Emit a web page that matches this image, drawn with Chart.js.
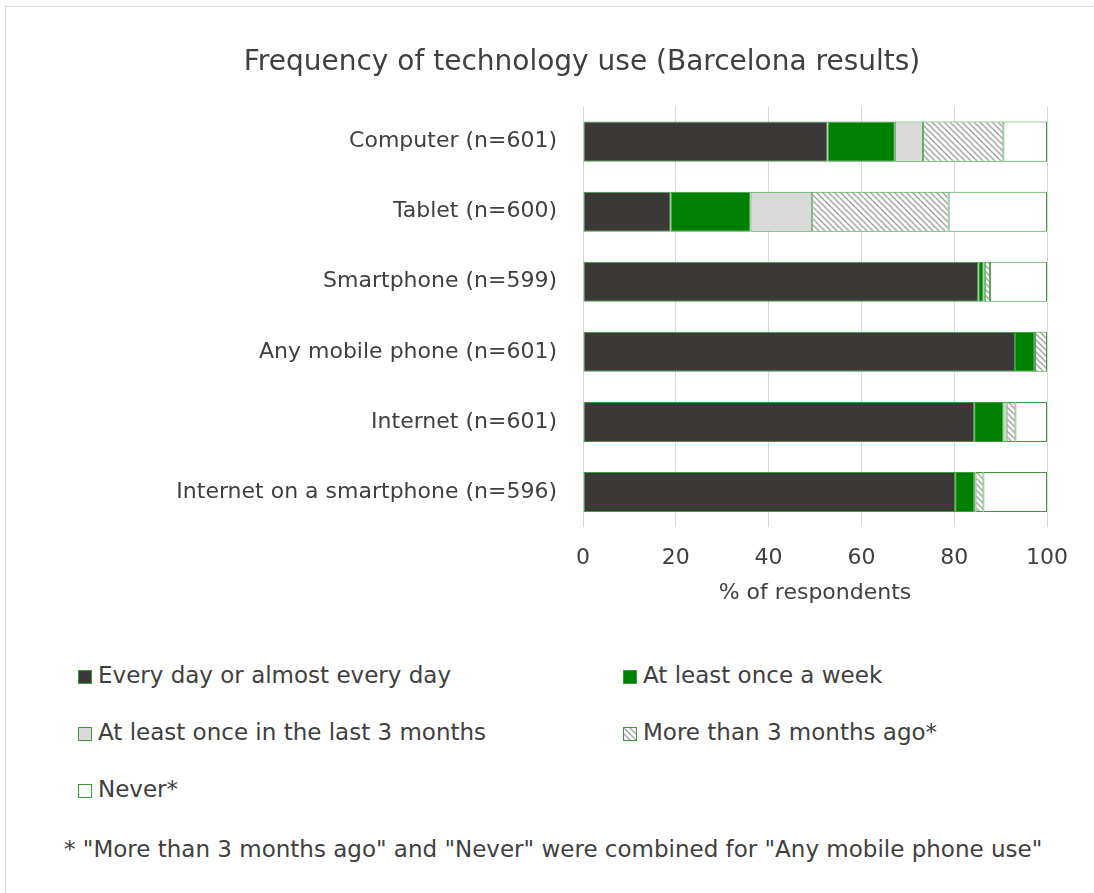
<!DOCTYPE html>
<html>
<head>
<meta charset="utf-8">
<title>Frequency of technology use</title>
<script src="https://cdn.jsdelivr.net/npm/chart.js@4/dist/chart.umd.min.js"></script>
<style>
  body { margin: 0; background: #fff; font-family: "DejaVu Sans", sans-serif; color: #404040; }
  #frame { position: absolute; left: 5px; top: 6px; width: 1200px; height: 1000px; border-top: 1px solid #d9d9d9; border-left: 1px solid #d9d9d9; }
  #wrap { position: absolute; left: 72px; top: 6px; width: 1020px; height: 620px; }
  #legend { position: absolute; left: 78px; top: 660px; width: 1000px; font-size: 23px; }
  .item { position: absolute; white-space: nowrap; line-height: 30px; }
  .item canvas { vertical-align: -1px; margin-right: 6px; }
  #note { position: absolute; left: 64px; top: 836px; font-size: 23px; white-space: nowrap; }
</style>
</head>
<body>
<div id="frame"></div>
<div id="wrap"><canvas id="bar-chart"></canvas></div>
<div id="legend"></div>
<div id="note">* "More than 3 months ago" and "Never" were combined for "Any mobile phone use"</div>
<script>
// Categories and shares (% of respondents)
var categories = ["Computer (n=601)", "Tablet (n=600)", "Smartphone (n=599)", "Any mobile phone (n=601)", "Internet (n=601)", "Internet on a smartphone (n=596)"];
var everyDay = [52.7, 18.9, 85.2, 93.1, 84.3, 80.2];
var weekly = [14.5, 17.2, 1.1, 4.1, 6.3, 4.1];
var last3Months = [6.1, 13.3, 0.3, 0.2, 0.7, 0.3];
var moreThan3Months = [17.3, 29.4, 1.1, 2.6, 1.9, 1.7];
var never = [9.4, 21.2, 12.3, 0, 6.8, 13.7];
var seriesLabels = ["Every day or almost every day", "At least once a week", "At least once in the last 3 months", "More than 3 months ago*", "Never*"];
var xTicks = [0, 20, 40, 60, 80, 100];

var edge = "#3c9c3c";

// Diagonal hatch for "more than 3 months ago"
function hatch() {
    var c = document.createElement("canvas");
    c.width = 6; c.height = 6;
    var g = c.getContext("2d");
    g.fillStyle = "#fff";
    g.fillRect(0, 0, 6, 6);
    g.strokeStyle = "#a6a6a6";
    g.lineWidth = 1.5;
    g.beginPath();
    g.moveTo(-1, -1); g.lineTo(7, 7);
    g.moveTo(-1, 5); g.lineTo(1, 7);
    g.moveTo(5, -1); g.lineTo(7, 1);
    g.stroke();
    return g.createPattern(c, "repeat");
}
var hatchFill = hatch();

var fills = ["#3b3838", "#008000", "#d9d9d9", hatchFill, "#ffffff"];
var values = [everyDay, weekly, last3Months, moreThan3Months, never];

var ctx = document.getElementById("bar-chart");
var fontFamily = "'DejaVu Sans', sans-serif";

var chartData = {
    labels: categories,
    datasets: values.map(function (v, i) {
        return {
            label: seriesLabels[i],
            data: v,
            backgroundColor: fills[i],
            borderColor: edge,
            borderWidth: 1,
            borderSkipped: false,
            barPercentage: 0.8,
            categoryPercentage: 0.714
        };
    })
};

var chartOptions = {
    indexAxis: "y",
    responsive: true,
    maintainAspectRatio: false,
    animation: false,
    layout: { padding: { left: 45, right: 45, bottom: 0 } },
    plugins: {
        legend: { display: false },
        tooltip: { enabled: false },
        title: {
            display: true,
            text: "Frequency of technology use (Barcelona results)",
            color: "#404040",
            font: { family: fontFamily, size: 28, weight: "normal" },
            padding: { top: 40, bottom: 27 }
        }
    },
    scales: {
        x: {
            stacked: true,
            min: 0,
            max: 100,
            afterBuildTicks: function (scale) {
                scale.ticks = xTicks.map(function (t) { return { value: t }; });
            },
            afterFit: function (scale) { scale.height = 99; },
            grid: { color: "#d9d9d9", drawTicks: false },
            border: { display: false },
            ticks: { color: "#404040", padding: 18, font: { family: fontFamily, size: 22 } },
            title: {
                display: true,
                text: "% of respondents",
                color: "#404040",
                font: { family: fontFamily, size: 22 },
                padding: { top: 0, bottom: 20 }
            }
        },
        y: {
            stacked: true,
            afterFit: function (scale) { scale.width = 466; },
            grid: { display: false },
            border: { display: false },
            ticks: { color: "#404040", padding: 18, font: { family: fontFamily, size: 22 } }
        }
    }
};

var chart = new Chart(ctx, { type: "bar", data: chartData, options: chartOptions });

// Two-column legend below the chart
var legendPos = [[0, 0], [545, 0], [0, 57], [545, 57], [0, 114]];
var legend = document.getElementById("legend");
chartData.datasets.forEach(function (ds, i) {
    var item = document.createElement("div");
    item.className = "item";
    item.style.left = legendPos[i][0] + "px";
    item.style.top = legendPos[i][1] + "px";
    var sw = document.createElement("canvas");
    sw.width = 14; sw.height = 14;
    var g = sw.getContext("2d");
    g.fillStyle = ds.backgroundColor;
    g.fillRect(0, 0, 14, 14);
    g.strokeStyle = edge;
    g.lineWidth = 1;
    g.strokeRect(0.5, 0.5, 13, 13);
    item.appendChild(sw);
    item.appendChild(document.createTextNode(ds.label));
    legend.appendChild(item);
});
</script>
</body>
</html>
